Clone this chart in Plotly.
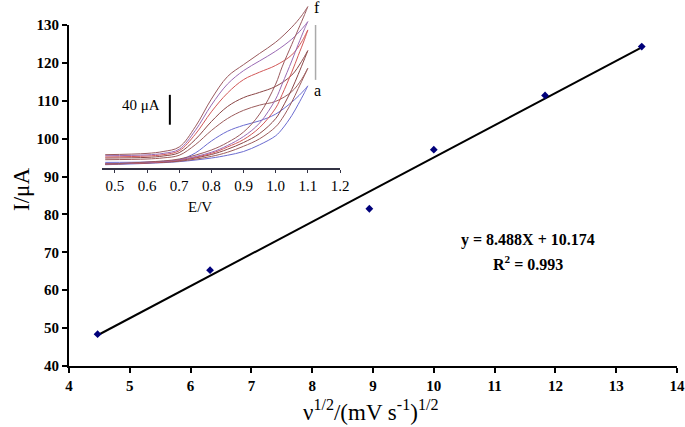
import plotly.graph_objects as go

# ---- main plot data ----
sqrt_scan = [4.47, 6.32, 8.94, 10.0, 11.83, 13.42]
peak_current = [48.4, 65.3, 81.5, 97.1, 111.4, 124.3]
fit_slope = 8.488
fit_intercept = 10.174
fit_x = [4.47, 13.42]
x_ticks = [4, 5, 6, 7, 8, 9, 10, 11, 12, 13, 14]
y_ticks = [40, 50, 60, 70, 80, 90, 100, 110, 120, 130]

# ---- inset CV data (E / V, I / uA) ----
E_fwd = [0.47, 0.6, 0.65, 0.7, 0.75, 0.8, 0.85, 0.9, 0.95, 1.0, 1.05, 1.08, 1.1]
E_rev = [1.1, 1.09, 1.07, 1.05, 1.02, 1.0, 0.95, 0.9, 0.85, 0.8, 0.7, 0.6, 0.47]

cv_a_fwd = [7.5, 8, 9, 11, 20, 36, 49, 57, 63, 72, 88, 100, 109.7]
cv_a_rev = [109.7, 101, 85, 70, 52, 43, 31, 22, 17, 13.3, 8.5, 6.2, 4.4]
cv_b_fwd = [11.1, 12, 13.5, 17, 31, 50, 66, 77, 84, 89, 102, 118, 133.3]
cv_b_rev = [133.3, 124, 106, 88, 66, 55, 39, 29, 21, 15.5, 9, 6.7, 5.3]
cv_c_fwd = [13.3, 14.2, 16, 20.5, 38, 62, 82, 94, 101, 109, 124, 142, 156.8]
cv_c_rev = [156.8, 146, 125, 105, 80, 66, 46, 34, 25, 18, 10, 7, 5.3]
cv_d_fwd = [14.7, 16, 17.8, 23, 45, 75, 100, 118, 128, 137, 151, 168, 184.4]
cv_d_rev = [184.4, 172, 150, 128, 98, 80, 54, 38, 28, 19.5, 10.5, 7, 5.3]
cv_e_fwd = [16.4, 17.5, 19.5, 25, 50, 84, 112, 130, 143, 156, 172, 185, 195.5]
cv_e_rev = [195.5, 186, 165, 143, 112, 92, 60, 42, 30, 21, 11, 7.5, 5.3]
cv_f_fwd = [17.8, 19.5, 22, 28, 55, 92, 122, 138, 153, 168, 188, 203, 215.5]
cv_f_rev = [215.5, 205, 185, 165, 135, 112, 72, 48, 34, 24, 12, 8, 5.3]

inset_ticks = [0.5, 0.6, 0.7, 0.8, 0.9, 1.0, 1.1, 1.2]
inset_tick_text = ["0.5", "0.6", "0.7", "0.8", "0.9", "1.0", "1.1", "1.2"]

serif = "Liberation Serif"

fig = go.Figure()

fig.add_trace(go.Scatter(
    x=fit_x, y=[fit_slope * v + fit_intercept for v in fit_x],
    mode="lines", line=dict(color="black", width=2), hoverinfo="skip",
    showlegend=False, xaxis="x", yaxis="y"))
fig.add_trace(go.Scatter(
    x=sqrt_scan, y=peak_current, mode="markers",
    marker=dict(symbol="diamond", size=6, color="#00007a"),
    showlegend=False, xaxis="x", yaxis="y"))

cv_sets = [
    (cv_a_fwd + cv_a_rev, "#6b6bd0"),
    (cv_b_fwd + cv_b_rev, "#9c5c5c"),
    (cv_c_fwd + cv_c_rev, "#8a4646"),
    (cv_d_fwd + cv_d_rev, "#d25858"),
    (cv_e_fwd + cv_e_rev, "#9a6ab4"),
    (cv_f_fwd + cv_f_rev, "#9a5a5e"),
]
for iy, col in cv_sets:
    fig.add_trace(go.Scatter(
        x=E_fwd + E_rev, y=iy, mode="lines",
        line=dict(color=col, width=1, shape="spline", smoothing=1.0),
        showlegend=False, xaxis="x2", yaxis="y2", hoverinfo="skip"))

main_dom_top = 341 / 364
fig.update_layout(
    width=685, height=427,
    margin=dict(l=69, r=8, t=2, b=61),
    paper_bgcolor="white", plot_bgcolor="rgba(0,0,0,0)",
    font=dict(family=serif, color="black"),
    xaxis=dict(domain=[0, 1], range=[4, 14], tickvals=x_ticks,
               ticktext=["<b>%d</b>" % v for v in x_ticks], automargin=False,
               showline=True, linecolor="black", linewidth=2,
               ticks="outside", ticklen=5, tickwidth=1.5, tickcolor="black",
               showgrid=False, zeroline=False,
               tickfont=dict(family=serif, size=15)),
    yaxis=dict(domain=[0, main_dom_top], range=[40, 130], tickvals=y_ticks,
               ticktext=["<b>%d</b>" % v for v in y_ticks], automargin=False,
               showline=True, linecolor="black", linewidth=2,
               ticks="outside", ticklen=5, tickwidth=1.5, tickcolor="black",
               showgrid=False, zeroline=False,
               tickfont=dict(family=serif, size=15)),
    xaxis2=dict(domain=[(102 - 69) / 608, (340 - 69) / 608], range=[0.46, 1.2],
                anchor="y2", tickvals=inset_ticks, ticktext=inset_tick_text, automargin=False,
                showline=True, linecolor="#333344", linewidth=1.5,
                ticks="outside", ticklen=3, tickwidth=1, tickcolor="#333344",
                showgrid=False, zeroline=False,
                tickfont=dict(family=serif, size=15)),
    yaxis2=dict(domain=[(366 - 168) / 364, 1], range=[0, 221.7], anchor="x2",
                visible=False, showgrid=False, zeroline=False),
    shapes=[
        dict(type="line", xref="x2", yref="y2", x0=0.671, x1=0.671, y0=57.8, y1=97.7,
             line=dict(color="black", width=2)),
        dict(type="line", xref="x2", yref="y2", x0=1.124, x1=1.124, y0=117.7, y1=191,
             line=dict(color="#aaaaaa", width=1.5)),
    ],
    annotations=[
        dict(x=22, y=427 - 190, xref="paper", yref="paper", text="I/\u03bcA", showarrow=False,
             textangle=-90, font=dict(family=serif, size=23)),
        dict(x=370, y=427 - 410, xref="paper", yref="paper",
             text="\u03bd<sup>1/2</sup>/(mV s<sup>-1</sup>)<sup>1/2</sup>", showarrow=False,
             font=dict(family=serif, size=23)),
        dict(x=200, y=427 - 207, xref="paper", yref="paper", text="E/V", showarrow=False,
             font=dict(family=serif, size=15)),
        dict(x=0.646, y=84.4, xref="x2", yref="y2", text="40 \u03bcA", showarrow=False,
             xanchor="right", font=dict(family=serif, size=15)),
        dict(x=1.113, y=215, xref="x2", yref="y2", text="f", showarrow=False,
             xanchor="left", font=dict(family=serif, size=16)),
        dict(x=1.113, y=104, xref="x2", yref="y2", text="a", showarrow=False,
             xanchor="left", font=dict(family=serif, size=16)),
        dict(x=11.55, y=73.3, xref="x", yref="y", text="<b>y = 8.488X + 10.174</b>", showarrow=False,
             font=dict(family=serif, size=16)),
        dict(x=11.55, y=67.2, xref="x", yref="y", text="<b>R<sup>2</sup> = 0.993</b>", showarrow=False,
             font=dict(family=serif, size=16)),
    ],
)

# convert pixel-placed paper annotations to paper fractions
W, H = 685, 427
pw, ph = W - 69 - 8, H - 2 - 61
for ann in fig.layout.annotations:
    if ann.xref == "paper":
        ann.x = (ann.x - 69) / pw
        ann.y = (ann.y - 61) / ph
        ann.xanchor = "center"
        ann.yanchor = "middle"

fig.write_html("out.html", config={"displayModeBar": False},
               post_script="document.body.style.margin='0';document.body.style.padding='0';")
